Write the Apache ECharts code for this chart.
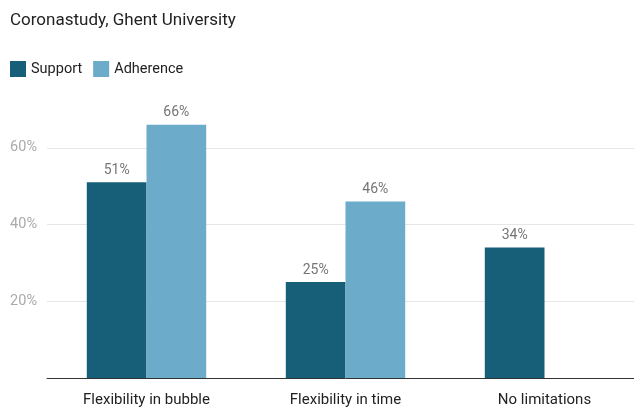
<!DOCTYPE html>
<html><head><meta charset="utf-8">
<script src="https://cdn.jsdelivr.net/npm/echarts@6/dist/echarts.min.js"></script>
<style>html,body{margin:0;padding:0;background:#fff;overflow:hidden;width:634px;height:408px}#c{width:644px;height:408px}</style>
</head><body><div id="c"></div>
<script>
const categories = ['Flexibility in bubble', 'Flexibility in time', 'No limitations'];
const support = [51, 25, 34];
const adherence = [66, 46, null];
const yTicks = [0, 20, 40, 60, 80];

const chart = echarts.init(document.getElementById('c'), null, {renderer: 'canvas'});
const labelStyle = {show: true, position: 'top', distance: 5, color: '#757575', fontSize: 14, fontFamily: 'Roboto', formatter: p => p.value + '%'};
chart.setOption({
  animation: false,
  title: {text: 'Coronastudy, Ghent University', left: 5, top: 7,
    textStyle: {fontFamily: 'Roboto', fontSize: 17, fontWeight: 'normal', color: '#222'}},
  legend: {left: 10, top: 61, padding: 0, itemWidth: 16, itemHeight: 16, itemGap: 11, icon: 'rect',
    textStyle: {fontFamily: 'Roboto', fontSize: 14.5, color: '#222', padding: [0, 0, 0, 0]},
    data: ['Support', 'Adherence']},
  grid: {left: 47, top: 71, right: 0, height: 308, containLabel: false},
  xAxis: {type: 'category', data: categories,
    axisLine: {lineStyle: {color: '#333', width: 1}}, axisTick: {show: false},
    axisLabel: {fontFamily: 'Roboto', fontSize: 15, color: '#222', margin: 15}},
  yAxis: {type: 'value', min: yTicks[0], max: yTicks[yTicks.length - 1], interval: 20,
    axisLine: {show: false}, axisTick: {show: false},
    axisLabel: {fontFamily: 'Roboto', fontSize: 14.5, color: '#aaa', margin: 10,
      showMinLabel: false, showMaxLabel: false, formatter: v => v + '%'},
    splitLine: {showMinLine: false, showMaxLine: false, lineStyle: {color: '#e6e6e6'}}},
  series: [
    {name: 'Support', type: 'bar', data: support, barGap: '0%', barCategoryGap: '40%',
      itemStyle: {color: '#175f79'}, label: labelStyle},
    {name: 'Adherence', type: 'bar', data: adherence,
      itemStyle: {color: '#6cabc9'}, label: labelStyle}
  ]
});
</script></body></html>
